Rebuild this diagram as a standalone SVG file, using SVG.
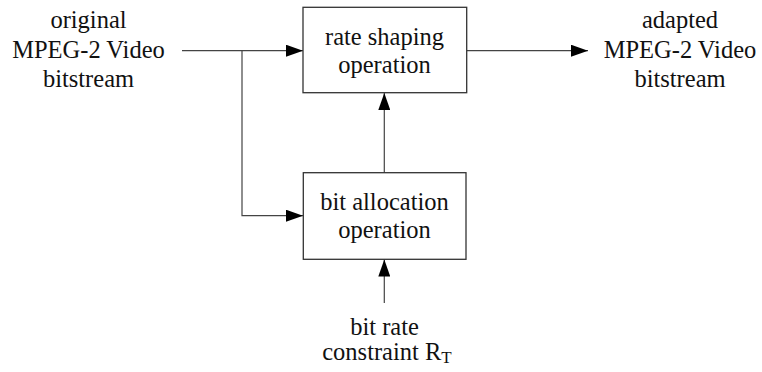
<svg xmlns="http://www.w3.org/2000/svg" width="762" height="372" viewBox="0 0 762 372">
<style>
.t{font-family:'Liberation Serif',serif;font-size:24.5px;fill:#111;text-anchor:middle}
.box{fill:#fff;stroke:#333;stroke-width:1.3}
.ln{fill:none;stroke:#444;stroke-width:1.2}
</style>
<defs>
<marker id="ah" viewBox="0 0 17 12" refX="17" refY="6" markerWidth="17" markerHeight="12" markerUnits="userSpaceOnUse" orient="auto">
<path d="M0,0 L17,6 L0,12 Z" fill="#000"/>
</marker>
</defs>
<rect width="762" height="372" fill="#fff"/>
<g id="connectors">
<path class="ln" d="M182,50.7 H303" marker-end="url(#ah)"/>
<path class="ln" d="M242,50.7 V215.7 H303" marker-end="url(#ah)"/>
<path class="ln" d="M467,50.7 H588" marker-end="url(#ah)"/>
<path class="ln" d="M384.3,173 V93" marker-end="url(#ah)"/>
<path class="ln" d="M384.3,303 V259.5" marker-end="url(#ah)"/>
</g>
<g id="input" class="t">
<text x="88.5" y="28">original</text>
<text x="88.5" y="57.5">MPEG-2 Video</text>
<text x="88.5" y="87">bitstream</text>
</g>
<g id="rate-shaping">
<rect class="box" x="303" y="7.3" width="163.7" height="85.4"/>
<g class="t">
<text x="384.5" y="45">rate shaping</text>
<text x="384.5" y="73">operation</text>
</g>
</g>
<g id="bit-allocation">
<rect class="box" x="303.3" y="172.7" width="162.7" height="86.6"/>
<g class="t">
<text x="384.5" y="210">bit allocation</text>
<text x="384.5" y="238">operation</text>
</g>
</g>
<g id="output" class="t">
<text x="680" y="28">adapted</text>
<text x="680" y="57.5">MPEG-2 Video</text>
<text x="680" y="87">bitstream</text>
</g>
<g id="constraint" class="t">
<text x="384.5" y="335">bit rate</text>
<text x="387" y="360">constraint R<tspan font-size="17" dy="3">T</tspan></text>
</g>
</svg>
